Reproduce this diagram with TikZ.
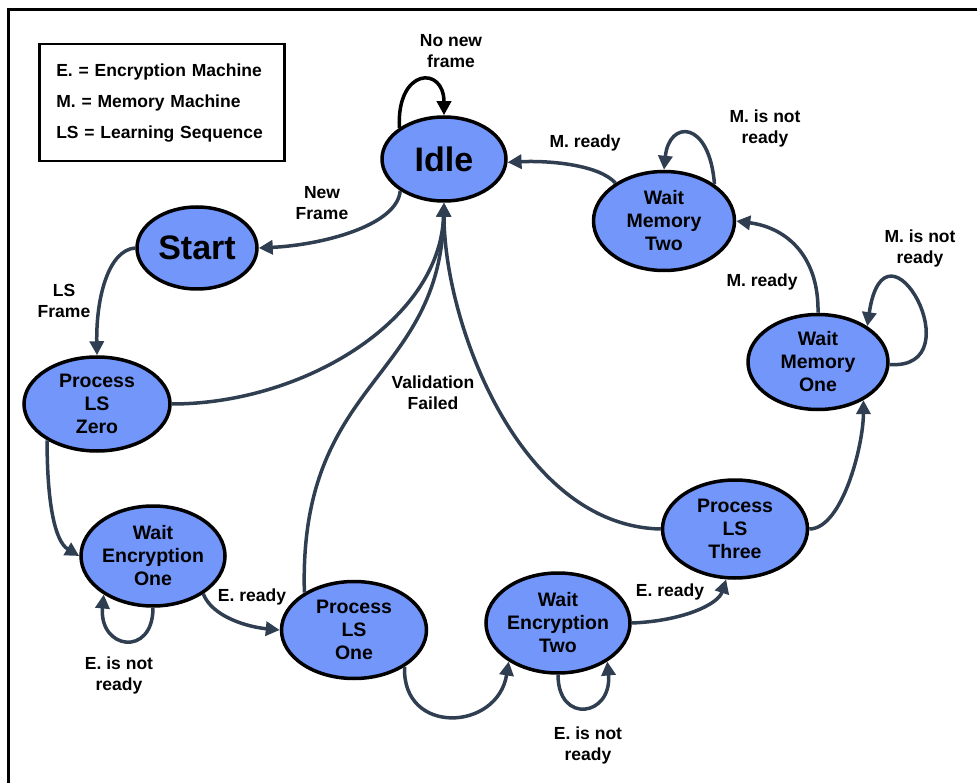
\documentclass[tikz,border=0pt]{standalone}
\usepackage{fontspec}
\setmainfont{Liberation Sans}
\usetikzlibrary{shapes.geometric,arrows.meta}
\definecolor{statefill}{RGB}{114,150,250}
\definecolor{edgecol}{RGB}{47,62,80}
\tikzset{
  state/.style={ellipse, draw=black, line width=3.5pt, fill=statefill, inner sep=0pt,
    align=center, font=\bfseries\fontsize{19.5}{23}\selectfont},
  bigstate/.style={state, font=\bfseries\fontsize{34}{40}\selectfont},
  trans/.style={draw=edgecol, line width=3.5pt, -{Triangle[length=14pt,width=14pt]}},
  lbl/.style={align=center, font=\bfseries\fontsize{17.5}{21}\selectfont, inner sep=0pt},
}
\begin{document}
\begin{tikzpicture}[x=1pt,y=-1pt]
\useasboundingbox (0,0) rectangle (977,783);
\clip (0,0) rectangle (977,783);

% outer frame
\draw[line width=3pt] (8,800) -- (8,10) -- (990,10);

% legend
\node[draw, line width=2.5pt, text width=211pt, inner xsep=17pt, inner ysep=0pt,
      minimum height=117pt, align=left, anchor=north west,
      font=\bfseries\fontsize{17.5}{31}\selectfont] (legend) at (38,43)
  {E. = Encryption Machine\\M. = Memory Machine\\LS = Learning Sequence};

% states
\node[bigstate, minimum width=124pt, minimum height=84pt] (idle)  at (444,159) {Idle};
\node[bigstate, minimum width=120pt, minimum height=82pt] (start) at (197,248) {Start};
\node[state, minimum width=146pt, minimum height=94pt]  (pl0) at (97,404)  {Process\\LS\\Zero};
\node[state, minimum width=140pt, minimum height=100pt] (we1) at (153,556) {Wait\\Encryption\\One};
\node[state, minimum width=145pt, minimum height=97pt]  (pl1) at (354,630) {Process\\LS\\One};
\node[state, minimum width=141pt, minimum height=100pt] (we2) at (558,623) {Wait\\Encryption\\Two};
\node[state, minimum width=145pt, minimum height=98pt]  (pl3) at (735,529) {Process\\LS\\Three};
\node[state, minimum width=140pt, minimum height=95pt]  (wm1) at (818,362) {Wait\\Memory\\One};
\node[state, minimum width=141pt, minimum height=99pt]  (wm2) at (664,221) {Wait\\Memory\\Two};

% transitions
\draw[trans, draw=black] (idle.145) .. controls +(-3,-60) and +(0,-50) .. (idle.90);
\draw[trans] (wm2.142) .. controls +(-16,-18) and +(43,-2) .. (idle.-3);
\draw[trans] (wm2.36) .. controls +(-5,-65) and +(5,-50) .. (wm2.90);
\draw[trans] (wm1.90) .. controls +(1,-54) and +(53,7) .. (wm2.0);
\draw[trans] (wm1.-2) .. controls +(86,6) and +(18,-122) .. (wm1.36);
\draw[trans] (pl3.0) .. controls +(33,0) and +(0,45) .. (wm1.-40);
\draw[trans] (pl3.180) .. controls +(-142,-3) and +(0,119) .. (idle.-90);
\draw[trans] (we2.0) .. controls +(51,-2) and +(-8,25) .. (pl3.-100);
\draw[trans] (we2.-90) .. controls +(0,50) and +(5,55) .. (we2.-38);
\draw[trans] (pl1.-36) .. controls +(-3,69) and +(-11,70) .. (we2.-142);
\draw[trans] (pl1.143) .. controls +(-6,-214) and +(-4,179) .. (idle.-90);
\draw[trans] (pl0.0) .. controls +(130,0) and +(-4,119) .. (idle.-90);
\draw[trans] (idle.-144) .. controls +(-3,35) and +(63,-3) .. (start.0);
\draw[trans] (start.180) .. controls +(-27,2) and +(-1,-57) .. (pl0.90);
\draw[trans] (pl0.-144) .. controls +(0,60) and +(-25,-15) .. (we1.180);
\draw[trans] (we1.-90) .. controls +(0,50) and +(-5,55) .. (we1.-142);
\draw[trans] (we1.-37) .. controls +(9,23) and +(-32,-3) .. (pl1.180);

% transition labels
\node[lbl] (l1)  at (451,51)  {No new\\frame};
\node[lbl] (l2)  at (585,143) {M. ready};
\node[lbl] (l3)  at (765,128) {M. is not\\ready};
\node[lbl] (l4)  at (762,282) {M. ready};
\node[lbl] (l5)  at (920,248) {M. is not\\ready};
\node[lbl] (l6)  at (322,203) {New\\Frame};
\node[lbl] (l7)  at (64,301)  {LS\\Frame};
\node[lbl] (l8)  at (433,393) {Validation\\Failed};
\node[lbl] (l9)  at (252,597) {E. ready};
\node[lbl] (l10) at (119,675) {E. is not\\ready};
\node[lbl] (l11) at (670,592) {E. ready};
\node[lbl] (l12) at (588,745) {E. is not\\ready};
\end{tikzpicture}
\end{document}
